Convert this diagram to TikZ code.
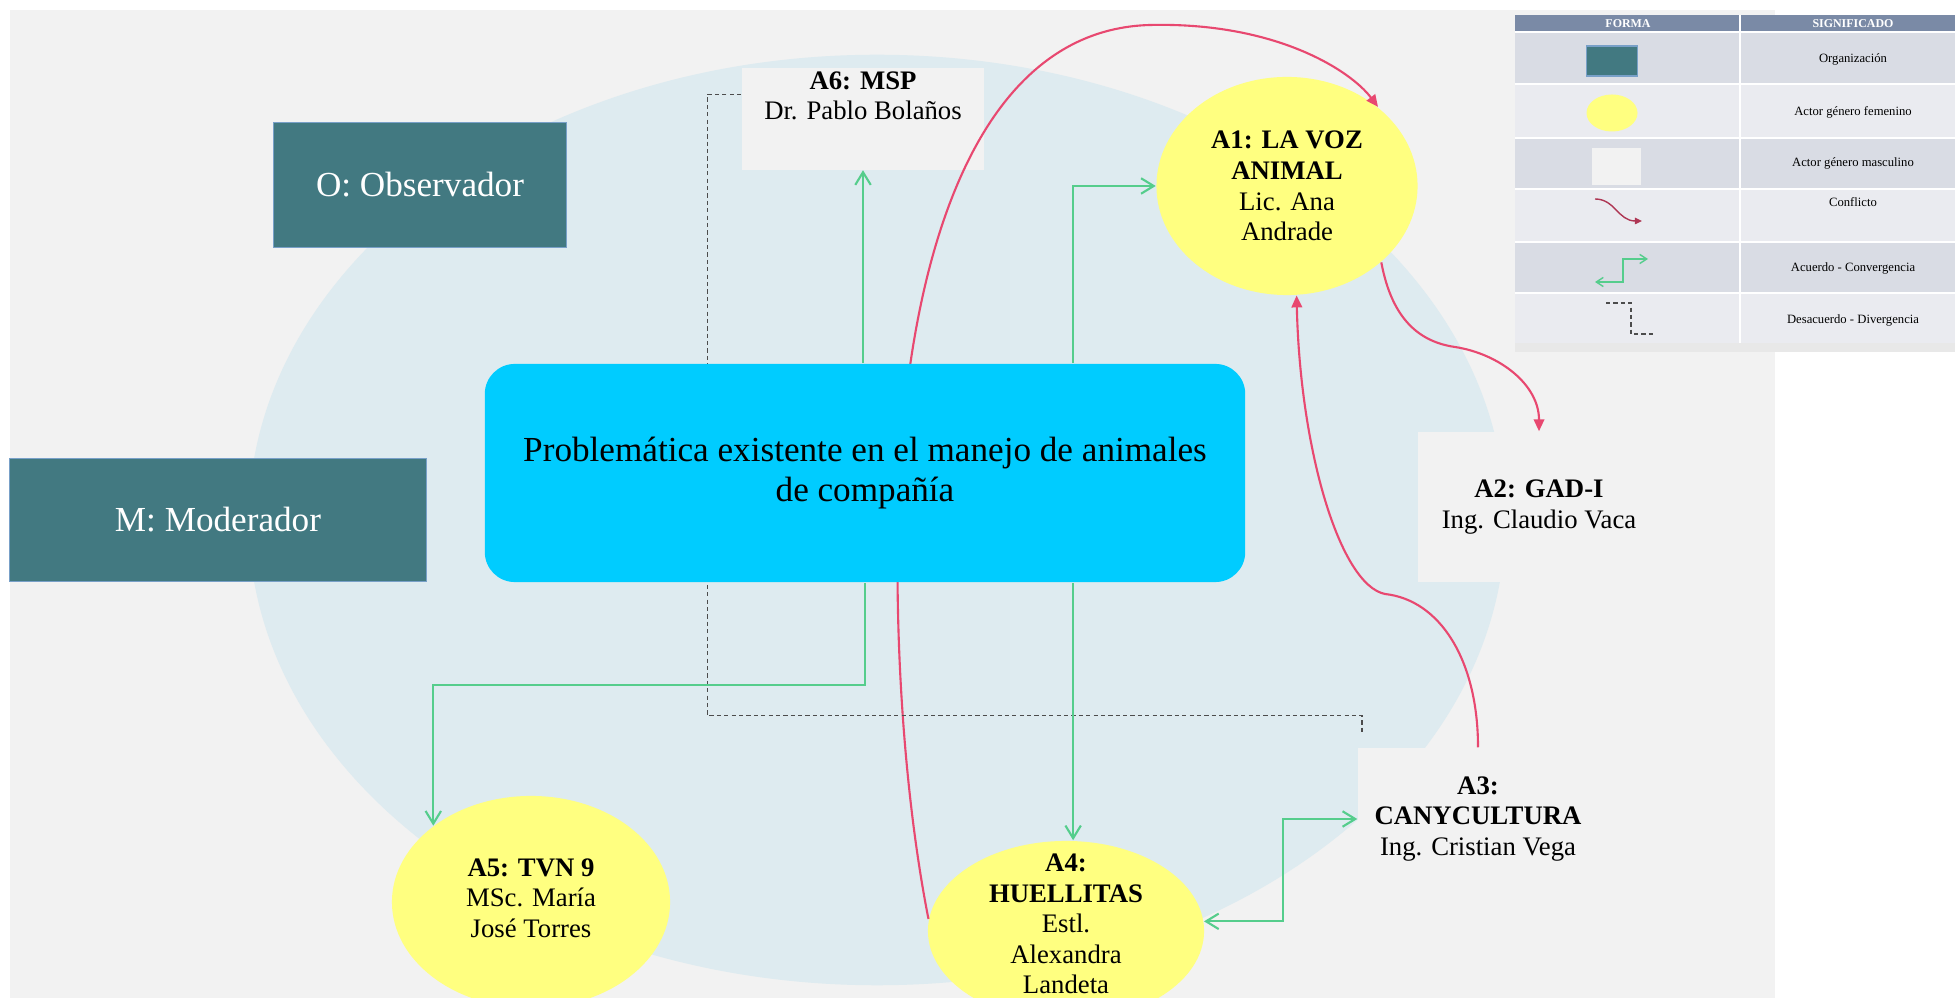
\documentclass[tikz,border=0pt]{standalone}
\usepackage{fontspec}
\setmainfont{Liberation Serif}
\usepackage{tikz}
\usetikzlibrary{shapes,arrows,arrows.meta,positioning}

\definecolor{panelgray}{RGB}{242,242,242}
\definecolor{backblue}{RGB}{222,235,240}
\definecolor{orgteal}{RGB}{66,121,129}
\definecolor{orgedge}{RGB}{120,160,200}
\definecolor{probcyan}{RGB}{0,204,255}
\definecolor{femyellow}{RGB}{255,255,128}
\definecolor{malegray}{RGB}{242,242,242}
\definecolor{agreegreen}{RGB}{85,205,140}
\definecolor{conflictred}{RGB}{232,72,112}
\definecolor{headslate}{RGB}{122,138,166}
\definecolor{rowdark}{RGB}{217,220,228}
\definecolor{rowlight}{RGB}{234,235,240}

\begin{document}
\begin{tikzpicture}[
    x=0.01cm, y=-0.01cm,
    org/.style={rectangle, draw=orgedge, line width=0.3pt, fill=orgteal, text=white, font=\fontsize{10}{12}\selectfont},
    problem/.style={rectangle, rounded corners=0.3cm, fill=probcyan, minimum width=7.6cm, minimum height=2.18cm, align=center, font=\fontsize{10}{11.6}\selectfont},
    female/.style={ellipse, fill=femyellow, inner sep=0pt},
    male/.style={rectangle, fill=malegray, inner sep=0pt},
    actor/.style={align=center, inner sep=0pt, font=\fontsize{7.6}{8.7}\selectfont},
    agree/.style={draw=agreegreen, line width=0.6pt, >={Straight Barb[length=3.6pt,width=4.4pt]}, ->},
    conflict/.style={draw=conflictred, line width=0.6pt, >={Triangle[length=3.4pt,width=3pt]}, ->},
    disagree/.style={draw=black!70, line width=0.4pt, dash pattern=on 1.2pt off 0.9pt},
    legtext/.style={inner sep=0pt, font=\fontsize{3.6}{4.3}\selectfont},
    leghead/.style={inner sep=0pt, text=white, font=\bfseries\fontsize{3.4}{4}\selectfont}
]
\useasboundingbox (0,0) rectangle (1955,998);
\clip (0,0) rectangle (1955,998);

% Background
\fill[white] (0,0) rectangle (1955,998);
\fill[panelgray] (10,10) rectangle (1775,998);
\fill[backblue] (877,520) ellipse [x radius=6.28cm, y radius=4.65cm];

% Observer and moderator
\node[org, minimum width=2.93cm, minimum height=1.25cm] (obs) at (420,185) {O: Observador};
\node[org, minimum width=4.16cm, minimum height=1.22cm] (mod) at (218,520) {M: Moderador};

% Actors
\node[male, minimum width=2.42cm, minimum height=1.01cm] (a6) at (863,119) {};
\node[actor] (a6txt) at (863,96) {\textbf{A6: MSP}\\Dr. Pablo Bolaños};

\node[female, minimum width=2.61cm, minimum height=2.18cm] (a1) at (1287,186) {};
\node[actor] (a1txt) at (a1) {\textbf{A1: LA VOZ}\\\textbf{ANIMAL}\\Lic. Ana\\Andrade};

\node[male, minimum width=2.42cm, minimum height=1.50cm] (a2) at (1539,507) {};
\node[actor] (a2txt) at (a2) {\textbf{A2: GAD-I}\\Ing. Claudio Vaca};

\node[male, minimum width=2.40cm, minimum height=1.42cm] (a3) at (1478,819) {};
\node[actor] (a3txt) at (a3) {\textbf{A3:}\\\textbf{CANYCULTURA}\\Ing. Cristian Vega};

\node[female, minimum width=2.76cm, minimum height=1.80cm] (a4) at (1066,931) {};
\node[actor] (a4txt) at (1066,924) {\textbf{A4:}\\\textbf{HUELLITAS}\\Estl.\\Alexandra\\Landeta};

\node[female, minimum width=2.78cm, minimum height=2.12cm] (a5) at (531,902) {};
\node[actor] (a5txt) at (531,898) {\textbf{A5: TVN 9}\\MSc. María\\José Torres};

% Conflicts
\draw[conflict] (a4.175) .. controls (905,800) and (895,650) .. (898,520) .. controls (902,300) and (960,30) .. (1150,25) .. controls (1275,22) and (1350,70) .. (a1.41);
\draw[conflict] (a1.-39) .. controls (1392,320) and (1420,342) .. (1455,347) .. controls (1500,354) and (1539,385) .. (a2.north);
\draw[conflict] (a3.north) .. controls (1478,660) and (1440,600) .. (1385,594) .. controls (1340,585) and (1300,450) .. (a1.-85);

% Disagreement
\draw[disagree] ([yshift=0.245cm]a6.west) -- ++(-34,0) -- ++(0,621) -| ([xshift=-1.16cm,yshift=0.13cm]a3.north);

% Problem
\node[problem] (prob) at (865,473) {Problemática existente en el manejo de animales\\de compañía};

% Agreements
\draw[agree] (a6.south |- prob.north) -- (a6.south);
\draw[agree] ([xshift=2.08cm]prob.north) |- (a1.west);
\draw[agree] (prob.south) -- ++(0,102) -| (a5.142);
\draw[agree] ([xshift=2.08cm]prob.south) -- ([xshift=2.08cm]prob.south |- a4.north);
\draw[agree, <->] (a4.4) -- ++(79,0) |- (a3.west);

% Legend
\fill[headslate] (1515,15) rectangle (1955,32);
\foreach \ya/\yb/\rowc in {32/84/rowdark, 84/138/rowlight, 138/189/rowdark, 189/242/rowlight, 242/293/rowdark, 293/343/rowlight}
  \fill[\rowc] (1515,\ya) rectangle (1955,\yb);
\foreach \yy in {84,138,189,242,293}
  \draw[white, line width=0.4pt] (1515,\yy) -- (1955,\yy);
\draw[white, line width=0.8pt] (1515,32) -- (1955,32);
\draw[white, line width=0.6pt] (1740,15) -- (1740,343);
\fill[gray!18] (1515,343) rectangle (1955,352);

\node[leghead] (hforma) at (1628,24) {FORMA};
\node[leghead] (hsig) at (1853,24) {SIGNIFICADO};
\foreach \name/\yy/\txt in {lorg/59/Organización, lfem/112/Actor género femenino, lmale/163/Actor género masculino, lconf/202/Conflicto, lagree/268/Acuerdo - Convergencia, ldis/320/Desacuerdo - Divergencia}
  \node[legtext] (\name) at (1853,\yy) {\txt};

\node[org, minimum width=0.51cm, minimum height=0.30cm] (iorg) at (1612,61) {};
\node[female, minimum width=0.51cm, minimum height=0.37cm] (ifem) at (1612,113) {};
\node[male, minimum width=0.49cm, minimum height=0.37cm] (imale) at (1616,167) {};

\coordinate (cfa) at (1595,199);
\coordinate (cfb) at (1642,221);
\draw[conflict, draw=conflictred!75!black, line width=0.4pt, >={Triangle[length=2pt,width=1.8pt]}] (cfa) .. controls (1615,199) and (1618,221) .. (cfb);

\coordinate (aga) at (1595,282);
\coordinate (agb) at (1648,259);
\draw[agree, <->, line width=0.4pt, >={Straight Barb[length=2pt,width=2.6pt]}] (aga) -- ++(28,0) |- (agb);

\coordinate (dsa) at (1606,303);
\coordinate (dsb) at (1656,334);
\draw[disagree] (dsa) -- ++(25,0) |- (dsb);
\end{tikzpicture}
\end{document}
